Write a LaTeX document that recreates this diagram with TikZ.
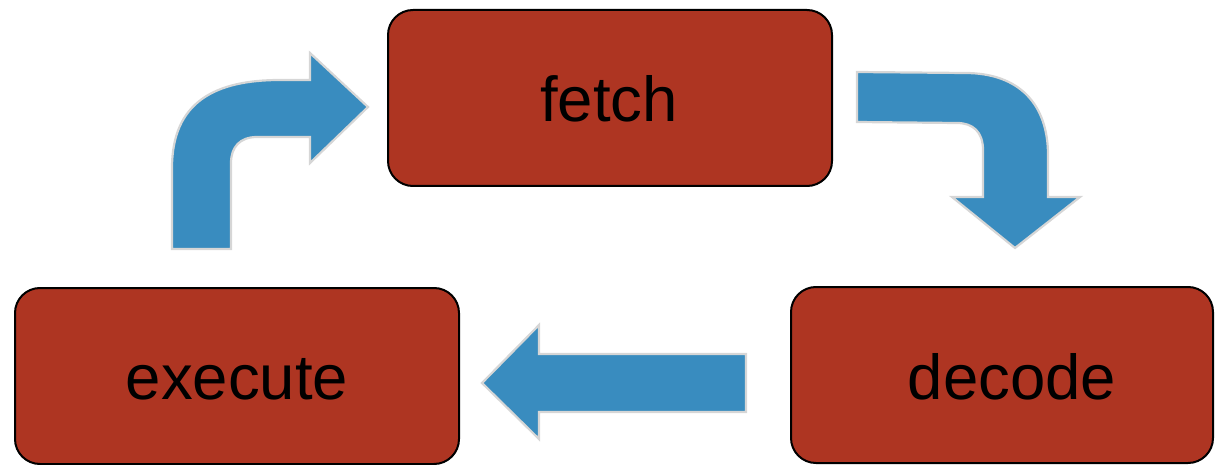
\documentclass[tikz,border=0pt]{standalone}
\usepackage{fontspec}
\setmainfont{Liberation Sans}
\definecolor{boxred}{HTML}{AE3522}
\definecolor{arrowblue}{HTML}{398CBF}
\definecolor{rimgray}{HTML}{D6D6D6}
\tikzset{
  stagebox/.style={draw=black, line width=2pt, fill=boxred, rounded corners=25pt, inner sep=0pt},
  stagetext/.style={anchor=base, inner sep=0pt, font=\fontsize{63.5}{70}\selectfont},
  blockarrow/.style={fill=arrowblue, draw=rimgray, line width=2.2pt, line join=miter}
}
\begin{document}
\begin{tikzpicture}[x=1pt, y=-1pt]
\useasboundingbox (0,0) rectangle (1217,465);
% boxes
\node[stagebox, minimum width=444pt, minimum height=176pt] (fetch) at (610,98) {};
\node[stagebox, minimum width=444pt, minimum height=176pt] (execute) at (237,376) {};
\node[stagebox, minimum width=422pt, minimum height=176pt] (decode) at (1002,375) {};
% labels
\node[stagetext] (fetchlabel) at (609,122) {fetch};
\node[stagetext] (executelabel) at (237,399) {execute};
\node[stagetext] (decodelabel) at (1012,399) {decode};
% execute -> fetch (bent up-right arrow)
\draw[blockarrow] (172,249) -- (172,168)
  .. controls (172,102) and (215,80) .. (280,80)
  -- (310,80) -- (310,53) -- (368,107) -- (310,163) -- (310,137)
  -- (257,137) .. controls (240,137) and (231,147) .. (231,163)
  -- (231,249) -- cycle;
% fetch -> decode (bent right-down arrow)
\draw[blockarrow] (857,72) -- (965,73)
  .. controls (1020,73) and (1048,105) .. (1048,155)
  -- (1048,197) -- (1080,197) -- (1015,248) -- (952,197) -- (983,197)
  -- (983,150) .. controls (983,132) and (973,123) .. (957,123)
  -- (857,122) -- cycle;
% decode -> execute (straight left arrow)
\draw[blockarrow] (746,354) -- (539,354) -- (539,325) -- (482,383)
  -- (539,439) -- (539,412) -- (746,412) -- cycle;
\end{tikzpicture}
\end{document}
